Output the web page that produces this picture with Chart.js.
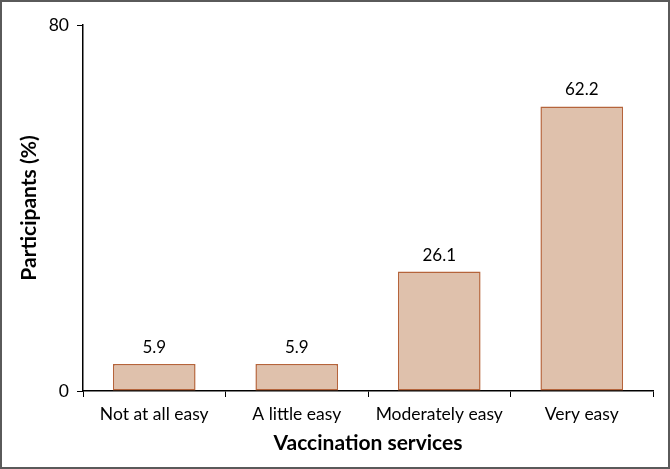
<!DOCTYPE html>
<html>
<head>
<meta charset="utf-8">
<script src="https://cdn.jsdelivr.net/npm/chart.js@4.4.0/dist/chart.umd.min.js"></script>
<style>
  html, body { margin: 0; padding: 0; background: #fff; }
  #wrap { width: 670px; height: 469px; box-sizing: border-box; border: 2px solid #5a5a5a; position: relative; }
  #chart { position: absolute; left: -2px; top: -2px; }
</style>
</head>
<body>
<div id="wrap"><canvas id="chart" width="670" height="469"></canvas></div>
<script>
const categories = ['Not at all easy', 'A little easy', 'Moderately easy', 'Very easy'];
const participants = [5.9, 5.9, 26.1, 62.2];
const yTicks = [0, 80];

const fontName = 'Lato, "Open Sans", sans-serif';

// prints the value over each bar
const barLabels = {
  id: 'barLabels',
  afterDatasetsDraw(chart) {
    const c = chart.ctx;
    const meta = chart.getDatasetMeta(0);
    c.save();
    c.font = '17px ' + fontName;
    c.fillStyle = '#000';
    c.textAlign = 'center';
    c.textBaseline = 'bottom';
    meta.data.forEach((bar, i) => {
      c.fillText(participants[i].toFixed(1), bar.x, bar.y - 8);
    });
    c.restore();
  }
};

const ctx = document.getElementById('chart').getContext('2d');
const chart = new Chart(ctx, {
  type: 'bar',
  data: {
    labels: categories,
    datasets: [{
      data: participants,
      backgroundColor: '#dfc1ac',
      borderColor: '#b5643b',
      borderWidth: 1.5,
      borderSkipped: false,
      categoryPercentage: 0.58,
      barPercentage: 1.0
    }]
  },
  options: {
    responsive: false,
    animation: false,
    layout: { padding: { left: 0, right: 17, top: 25, bottom: 0 } },
    plugins: { legend: { display: false }, tooltip: { enabled: false } },
    scales: {
      x: {
        afterFit(axis) { axis.height = 78; },
        grid: { display: true, drawOnChartArea: false, drawTicks: true, tickLength: 6, color: '#000', offset: true },
        border: { display: true, color: '#000', width: 1.5 },
        ticks: { color: '#000', font: { family: fontName, size: 17.5 }, padding: 7, maxRotation: 0 },
        title: { display: true, text: 'Vaccination services', color: '#000', font: { family: fontName, size: 21, weight: 'bold' }, padding: { top: 4, bottom: 13 }, align: 'center' }
      },
      y: {
        min: 0,
        max: 80,
        afterFit(axis) { axis.width = 83; },
        afterBuildTicks(axis) { axis.ticks = yTicks.map(v => ({ value: v })); },
        grid: { display: true, drawOnChartArea: false, drawTicks: true, tickLength: 6, color: '#000' },
        border: { display: true, color: '#000', width: 1.5 },
        ticks: { color: '#000', font: { family: fontName, size: 17.5 }, padding: 8 },
        title: { display: true, text: 'Participants (%)', color: '#000', font: { family: fontName, size: 21, weight: 'bold' }, padding: { top: 17, bottom: 4 } }
      }
    }
  },
  plugins: [barLabels]
});
</script>
</body>
</html>
